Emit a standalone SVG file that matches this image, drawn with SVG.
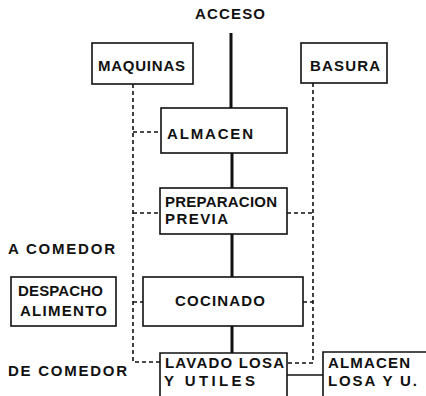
<svg xmlns="http://www.w3.org/2000/svg" width="426" height="396" viewBox="0 0 426 396">
<style>
text{font-family:"Liberation Sans",Arial,sans-serif;font-weight:bold;font-size:15px;fill:#111;}
.box{fill:none;stroke:#111;stroke-width:1.6;}
.main{fill:none;stroke:#111;stroke-width:3;}
.dash{fill:none;stroke:#111;stroke-width:1.6;stroke-dasharray:4 3;}
.thin{fill:none;stroke:#111;stroke-width:1.4;}
</style>
<rect width="426" height="396" fill="#fff"/>
<g id="connectors">
<path class="main" d="M231 33V108M232 153V188M232 234V277M232 326V353"/>
<path class="dash" d="M133 84V362H160M133 132H161M133 213H160M133 302H143"/>
<path class="dash" d="M313 83V363H287M287 213H313M303 302H313"/>
<path class="thin" d="M287 375H323"/>
</g>
<g id="acceso"><text x="195" y="19" textLength="70" lengthAdjust="spacing">ACCESO</text></g>
<g id="maquinas"><rect class="box" x="92" y="43" width="101" height="41"/><text x="98" y="71" textLength="87" lengthAdjust="spacing">MAQUINAS</text></g>
<g id="basura"><rect class="box" x="301" y="43" width="86" height="40"/><text x="310" y="71" textLength="70" lengthAdjust="spacing">BASURA</text></g>
<g id="almacen"><rect class="box" x="161" y="108" width="126" height="45"/><text x="167" y="139" textLength="86" lengthAdjust="spacing">ALMACEN</text></g>
<g id="preparacion"><rect class="box" x="160" y="188" width="127" height="46"/><text x="165" y="207" textLength="112" lengthAdjust="spacing">PREPARACION</text><text x="165" y="224" textLength="63" lengthAdjust="spacing">PREVIA</text></g>
<g id="a-comedor"><text x="8" y="254" textLength="107" lengthAdjust="spacing">A COMEDOR</text></g>
<g id="despacho"><rect class="box" x="11" y="277" width="105" height="49"/><text x="18" y="296" textLength="85" lengthAdjust="spacing">DESPACHO</text><text x="20" y="316" textLength="87" lengthAdjust="spacing">ALIMENTO</text></g>
<g id="cocinado"><rect class="box" x="143" y="277" width="160" height="49"/><text x="175" y="306" textLength="90" lengthAdjust="spacing">COCINADO</text></g>
<g id="de-comedor"><text x="8" y="376" textLength="119" lengthAdjust="spacing">DE COMEDOR</text></g>
<g id="lavado"><path class="box" d="M160 397V353H287V397"/><text x="165" y="368" textLength="119" lengthAdjust="spacing">LAVADO LOSA</text><text x="164" y="386" textLength="91" lengthAdjust="spacing">Y UTILES</text></g>
<g id="almacen-losa"><path class="box" d="M323 397V352H427"/><text x="328" y="368" textLength="82" lengthAdjust="spacing">ALMACEN</text><text x="328" y="386" textLength="89" lengthAdjust="spacing">LOSA Y U.</text></g>
</svg>
